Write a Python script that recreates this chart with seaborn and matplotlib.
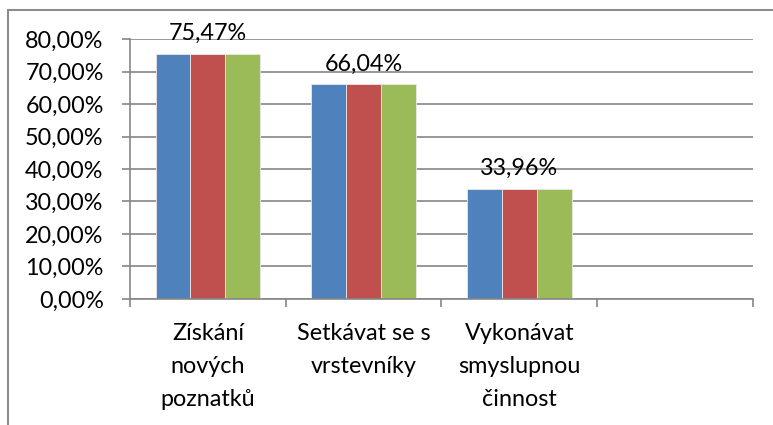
import pandas as pd
import matplotlib
matplotlib.use("Agg")
import matplotlib.pyplot as plt
from matplotlib.lines import Line2D
from matplotlib.ticker import FuncFormatter, FixedLocator
import seaborn as sns

# data
categories = ["Získání\nnových\npoznatků", "Setkávat se s\nvrstevníky", "Vykonávat\nsmyslupnou\nčinnost", ""]
series_names = ["Řada 1", "Řada 2", "Řada 3"]
values = [0.7547, 0.6604, 0.3396, None]
label_texts = ["75,47%", "66,04%", "33,96%"]
colors = ["#4F81BD", "#C0504D", "#9BBB59"]

rows = []
for s in series_names:
    for c, v in zip(categories, values):
        rows.append({"cat": c, "series": s, "val": v})
df = pd.DataFrame(rows)

sns.set_style("white")
plt.rcParams["font.family"] = ["Lato", "DejaVu Sans"]
FS = 16.8

fig = plt.figure(figsize=(7.73, 4.25), dpi=100)
ax = fig.add_axes([0.1682, 0.2965, 0.9741 - 0.1682, 0.9082 - 0.2965])

sns.barplot(data=df, x="cat", y="val", hue="series", order=categories,
            hue_order=series_names, palette=colors, width=0.67, gap=0,
            saturation=1, legend=False, ax=ax, edgecolor="#e8e8e8", linewidth=0.6)

grid_col = "#868686"
ax.set_ylim(0, 0.8)
ax.set_xlim(-0.5, len(categories) - 0.5)
ax.yaxis.set_major_locator(FixedLocator([i / 10 for i in range(9)]))
ax.yaxis.set_major_formatter(FuncFormatter(lambda v, p: f"{v * 100:.2f}%".replace(".", ",")))
ax.grid(axis="y", color=grid_col, linewidth=1.2)
ax.set_axisbelow(True)
ax.set_xlabel("")
ax.set_ylabel("")

for side in ["top", "right"]:
    ax.spines[side].set_visible(False)
for side in ["left", "bottom"]:
    ax.spines[side].set_color(grid_col)
    ax.spines[side].set_linewidth(1.2)

ax.tick_params(axis="y", length=6, width=1.2, color=grid_col, pad=13,
               labelsize=FS, labelcolor="black", left=True)
ax.tick_params(axis="x", which="major", length=0, pad=17, labelsize=FS, labelcolor="black")
ax.xaxis.set_minor_locator(FixedLocator([i - 0.5 for i in range(len(categories) + 1)]))
ax.tick_params(axis="x", which="minor", length=6, width=1.2, color=grid_col, bottom=True)
for lbl in ax.get_xticklabels():
    lbl.set_linespacing(1.72)
    lbl.set_ha("center")

# data labels above the middle bar of each group
for i, (v, t) in enumerate(zip(values[:3], label_texts)):
    ax.annotate(t, xy=(i, v), xytext=(0, 7), textcoords="offset points",
                ha="center", va="bottom", fontsize=FS, color="black")

# chart area border (only top and left visible)
fig.add_artist(Line2D([8 / 773, 8 / 773], [0, 1 - 10 / 425], transform=fig.transFigure,
                      color="#8c8c8c", linewidth=1.5))
fig.add_artist(Line2D([8 / 773, 1], [1 - 10 / 425, 1 - 10 / 425], transform=fig.transFigure,
                      color="#8c8c8c", linewidth=1.5))

fig.savefig("out.png", dpi=100)
